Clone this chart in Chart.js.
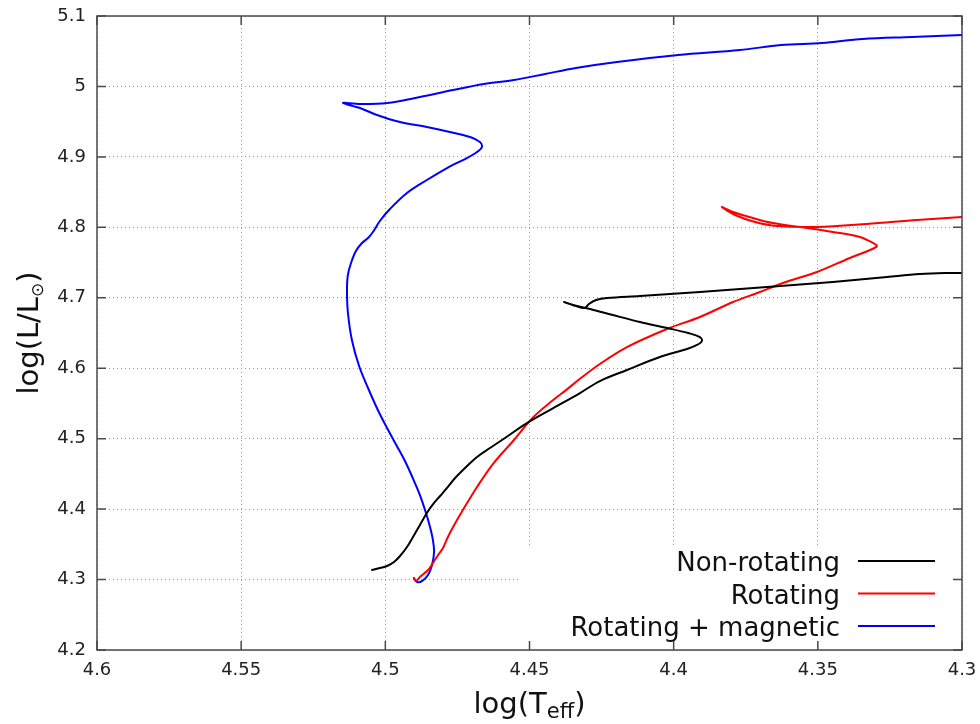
<!DOCTYPE html>
<html>
<head>
<meta charset="utf-8">
<script src="https://cdn.jsdelivr.net/npm/chart.js@4.4.1/dist/chart.umd.min.js"></script>
<style>
  html, body { margin: 0; padding: 0; background: #fff; }
  canvas { display: block; }
</style>
</head>
<body>
<canvas id="hrd" width="980" height="724"></canvas>
<script>
// tracks in the HR diagram: log(Teff) against log(L/Lsun)
const nonRotTeff = [4.5046, 4.5019, 4.4994, 4.4970, 4.4949, 4.4925, 4.4904, 4.4880, 4.4856, 4.4831,
  4.4810, 4.4786, 4.4758, 4.4720, 4.4682, 4.4637, 4.4585, 4.4509, 4.4419, 4.4325,
  4.4256, 4.4162, 4.4048, 4.3954, 4.3919, 4.3902, 4.3909, 4.3950, 4.4023, 4.4117,
  4.4211, 4.4290, 4.4349, 4.4380, 4.4339, 4.4308, 4.4294, 4.4269, 4.4231, 4.4117,
  4.3909, 4.3676, 4.3448, 4.3260, 4.3146, 4.3059, 4.3000];
const nonRotLum = [4.3135, 4.3164, 4.3192, 4.3249, 4.3334, 4.3462, 4.3604, 4.3774, 4.3945, 4.4087,
  4.4186, 4.4300, 4.4441, 4.4598, 4.4740, 4.4867, 4.5009, 4.5220, 4.5430, 4.5648,
  4.5818, 4.5975, 4.6159, 4.6273, 4.6330, 4.6386, 4.6443, 4.6500, 4.6571, 4.6656,
  4.6755, 4.6841, 4.6897, 4.6940, 4.6883, 4.6855, 4.6912, 4.6968, 4.6997, 4.7025,
  4.7082, 4.7153, 4.7224, 4.7295, 4.7337, 4.7352, 4.7352];

const rotTeff = [4.4901, 4.4894, 4.4880, 4.4852, 4.4835, 4.4817, 4.4800, 4.4783, 4.4765, 4.4731,
  4.4682, 4.4627, 4.4557, 4.4488, 4.4419, 4.4370, 4.4325, 4.4256, 4.4162, 4.4023,
  4.3909, 4.3794, 4.3701, 4.3621, 4.3503, 4.3389, 4.3319, 4.3295, 4.3309, 4.3354,
  4.3448, 4.3562, 4.3656, 4.3725, 4.3794, 4.3833, 4.3787, 4.3718, 4.3642, 4.3503,
  4.3330, 4.3156, 4.3000];
const rotLum = [4.3022, 4.2979, 4.3036, 4.3135, 4.3235, 4.3348, 4.3448, 4.3604, 4.3746, 4.3987,
  4.4314, 4.4640, 4.4967, 4.5300, 4.5545, 4.5700, 4.5850, 4.6060, 4.6300, 4.6557,
  4.6727, 4.6940, 4.7082, 4.7210, 4.7366, 4.7565, 4.7678, 4.7735, 4.7778, 4.7863,
  4.7934, 4.8005, 4.8061, 4.8132, 4.8218, 4.8289, 4.8175, 4.8076, 4.8019, 4.8005,
  4.8047, 4.8104, 4.8147];

const magTeff = [4.4901, 4.4890, 4.4873, 4.4852, 4.4838, 4.4831, 4.4835, 4.4845, 4.4859, 4.4880,
  4.4908, 4.4932, 4.4960, 4.4994, 4.5026, 4.5060, 4.5091, 4.5116, 4.5130, 4.5133,
  4.5130, 4.5119, 4.5102, 4.5081, 4.5060, 4.5043, 4.5019, 4.4984, 4.4925, 4.4856,
  4.4786, 4.4717, 4.4682, 4.4665, 4.4672, 4.4706, 4.4776, 4.4856, 4.4949, 4.5029,
  4.5088, 4.5147, 4.5088, 4.4994, 4.4880, 4.4765, 4.4658, 4.4554, 4.4446, 4.4339,
  4.4197, 4.3985, 4.3770, 4.3628, 4.3486, 4.3344, 4.3174, 4.3000];
const magLum = [4.3022, 4.2965, 4.2979, 4.3064, 4.3206, 4.3391, 4.3561, 4.3746, 4.3945, 4.4200,
  4.4470, 4.4683, 4.4896, 4.5151, 4.5407, 4.5719, 4.6031, 4.6401, 4.6798, 4.7110,
  4.7323, 4.7494, 4.7664, 4.7778, 4.7849, 4.7934, 4.8090, 4.8260, 4.8487, 4.8672,
  4.8842, 4.8984, 4.9069, 4.9140, 4.9211, 4.9282, 4.9353, 4.9424, 4.9495, 4.9595,
  4.9694, 4.9765, 4.9751, 4.9765, 4.9850, 4.9950, 5.0035, 5.0091, 5.0177, 5.0262,
  5.0347, 5.0446, 5.0517, 5.0588, 5.0617, 5.0674, 5.0702, 5.0730];

const trackLabels = ['Non-rotating', 'Rotating', 'Rotating + magnetic'];
const trackColors = ['#000000', '#ff0000', '#0000ff'];

const xTicks = [4.6, 4.55, 4.5, 4.45, 4.4, 4.35, 4.3];
const yTicks = [4.2, 4.3, 4.4, 4.5, 4.6, 4.7, 4.8, 4.9, 5.0, 5.1];

const FONT = "'DejaVu Sans', Verdana, sans-serif";

function toPoints(xs, ys) {
  return xs.map(function (x, i) { return { x: x, y: ys[i] }; });
}

// text with a lowered, smaller piece in the middle (subscripts)
function drawParts(ctx, parts, cx, cy) {
  let width = 0;
  parts.forEach(function (p) {
    ctx.font = p.size + 'px ' + FONT;
    width += ctx.measureText(p.text).width;
  });
  let x = cx - width / 2;
  parts.forEach(function (p) {
    ctx.font = p.size + 'px ' + FONT;
    ctx.fillText(p.text, x, cy + (p.shift || 0));
    x += ctx.measureText(p.text).width;
  });
}

const framePlugin = {
  id: 'frame',
  afterDatasetsDraw(chart) {
    const ctx = chart.ctx;
    const area = chart.chartArea;
    const xs = chart.scales.x;
    const ys = chart.scales.y;

    // key box sits on a white patch over the grid
    ctx.save();
    ctx.fillStyle = '#ffffff';
    ctx.fillRect(519, 545, area.right - 519, area.bottom - 545);
    ctx.textAlign = 'left';
    ctx.textBaseline = 'alphabetic';
    chart.data.datasets.forEach(function (ds, i) {
      const rowY = 561 + i * 32.5;
      ctx.font = '26px ' + FONT;
      ctx.fillStyle = '#111';
      const w = ctx.measureText(ds.label).width;
      ctx.fillText(ds.label, 840 - w, rowY + 10);
      ctx.strokeStyle = ds.borderColor;
      ctx.lineWidth = 2;
      ctx.beginPath();
      ctx.moveTo(858, rowY);
      ctx.lineTo(935, rowY);
      ctx.stroke();
    });
    ctx.restore();

    // border and inward tick marks on all four sides
    ctx.save();
    ctx.strokeStyle = '#4a4a4a';
    ctx.lineWidth = 1.5;
    ctx.strokeRect(area.left, area.top, area.right - area.left, area.bottom - area.top);
    ctx.beginPath();
    xTicks.forEach(function (v) {
      const px = xs.getPixelForValue(v);
      ctx.moveTo(px, area.bottom); ctx.lineTo(px, area.bottom - 9);
      ctx.moveTo(px, area.top); ctx.lineTo(px, area.top + 9);
    });
    yTicks.forEach(function (v) {
      const py = ys.getPixelForValue(v);
      ctx.moveTo(area.left, py); ctx.lineTo(area.left + 9, py);
      ctx.moveTo(area.right, py); ctx.lineTo(area.right - 9, py);
    });
    ctx.stroke();
    ctx.restore();

    // axis titles
    ctx.save();
    ctx.fillStyle = '#111';
    ctx.textAlign = 'left';
    ctx.textBaseline = 'alphabetic';
    drawParts(ctx, [
      { text: 'log(T', size: 29 },
      { text: 'eff', size: 21, shift: 5 },
      { text: ')', size: 29 }
    ], (area.left + area.right) / 2, 713);
    ctx.translate(38, (area.top + area.bottom) / 2);
    ctx.rotate(-Math.PI / 2);
    drawParts(ctx, [
      { text: 'log(L/L', size: 29 },
      { text: '\u2299', size: 17, shift: 5 },
      { text: ')', size: 29 }
    ], 0, 0);
    ctx.restore();
  }
};

function fmt(v) {
  return String(Number(v.toFixed(2)));
}

new Chart(document.getElementById('hrd'), {
  type: 'scatter',
  data: {
    datasets: [
      { label: trackLabels[0], data: toPoints(nonRotTeff, nonRotLum), borderColor: trackColors[0] },
      { label: trackLabels[1], data: toPoints(rotTeff, rotLum), borderColor: trackColors[1] },
      { label: trackLabels[2], data: toPoints(magTeff, magLum), borderColor: trackColors[2] }
    ]
  },
  options: {
    responsive: false,
    animation: false,
    devicePixelRatio: 1,
    layout: { padding: { left: 0, right: 18, top: 16, bottom: 0 } },
    datasets: {
      scatter: {
        showLine: true,
        pointRadius: 0,
        borderWidth: 2,
        tension: 0.35,
        borderJoinStyle: 'round',
        borderCapStyle: 'round',
        backgroundColor: 'transparent'
      }
    },
    scales: {
      x: {
        type: 'linear',
        reverse: true,
        min: 4.3,
        max: 4.6,
        afterBuildTicks: function (s) { s.ticks = xTicks.map(function (v) { return { value: v }; }); },
        afterFit: function (s) {
          s.height = 74;
          s.paddingLeft = 0;
          s.paddingRight = 0;
        },
        grid: { color: '#9a9a9a', lineWidth: 1, drawTicks: false },
        border: { display: false, dash: [1, 3] },
        ticks: {
          padding: 10,
          maxRotation: 0,
          autoSkip: false,
          color: '#222',
          font: { family: FONT, size: 18 },
          callback: function (v) { return fmt(v); }
        }
      },
      y: {
        type: 'linear',
        min: 4.2,
        max: 5.1,
        afterBuildTicks: function (s) { s.ticks = yTicks.map(function (v) { return { value: v }; }); },
        afterFit: function (s) {
          s.width = 97;
          s.paddingTop = 0;
          s.paddingBottom = 0;
        },
        grid: { color: '#9a9a9a', lineWidth: 1, drawTicks: false },
        border: { display: false, dash: [1, 3] },
        ticks: {
          padding: 11,
          autoSkip: false,
          color: '#222',
          font: { family: FONT, size: 18 },
          callback: function (v) { return fmt(v); }
        }
      }
    },
    plugins: {
      legend: { display: false },
      tooltip: { enabled: false }
    }
  },
  plugins: [framePlugin]
});
</script>
</body>
</html>
